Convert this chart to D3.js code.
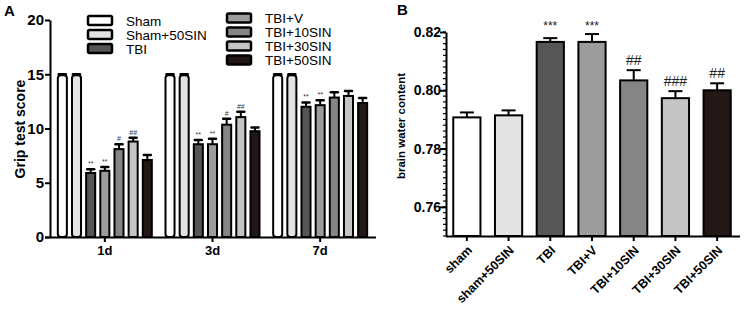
<!DOCTYPE html>
<html>
<head>
<meta charset="utf-8">
<script src="https://cdn.jsdelivr.net/npm/d3@7"></script>
<style>
  body { margin: 0; background: #fff; }
  svg text { font-family: "Liberation Sans", Arial, sans-serif; }
</style>
</head>
<body>
<div id="chart"></div>
<script>
// panel A data
var days = ["1d", "3d", "7d"];
var groupsA = ["Sham", "Sham+50SIN", "TBI", "TBI+V", "TBI+10SIN", "TBI+30SIN", "TBI+50SIN"];
var grip1d = [14.9, 14.9, 5.9, 6.1, 8.1, 8.8, 7.1];
var grip3d = [14.9, 14.9, 8.55, 8.55, 10.35, 11.05, 9.75];
var grip7d = [14.9, 14.9, 12.0, 12.15, 12.85, 13.0, 12.35];
var err1d = [0.1, 0.1, 0.35, 0.35, 0.45, 0.35, 0.45];
var err3d = [0.1, 0.1, 0.4, 0.5, 0.55, 0.5, 0.35];
var err7d = [0.1, 0.1, 0.4, 0.45, 0.5, 0.45, 0.45];
var sig1d = ["", "", "**", "**", "#", "##", ""];
var sig3d = ["", "", "**", "**", "#", "##", ""];
var sig7d = ["", "", "**", "**", "", "", ""];
var ticksA = [0, 5, 10, 15, 20];

// panel B data
var groupsB = ["sham", "sham+50SIN", "TBI", "TBI+V", "TBI+10SIN", "TBI+30SIN", "TBI+50SIN"];
var water = [0.7907, 0.7914, 0.8166, 0.8166, 0.8034, 0.7973, 0.8000];
var waterErr = [0.0017, 0.0017, 0.0013, 0.0027, 0.0035, 0.0024, 0.0024];
var sigB = ["", "", "***", "***", "##", "###", "##"];
var ticksB = [0.76, 0.78, 0.80, 0.82];

var fills = ["#ffffff", "#e3e3e3", "#575656", "#9c9c9c", "#858585", "#c4c4c4", "#231815"];

var svg = d3.select("#chart").append("svg")
  .attr("width", 744)
  .attr("height", 311);

// ---------- Panel A ----------
var gA = svg.append("g");
var gripData = [grip1d, grip3d, grip7d];
var errData = [err1d, err3d, err7d];
var sigData = [sig1d, sig3d, sig7d];

var xA = d3.scaleBand().domain(days).range([51, 374]);
var xInner = d3.scaleBand().domain(groupsA).range([-48, 48]).paddingInner(0.22);
var yA = d3.scaleLinear().domain([0, 20]).range([237, 20]);

days.forEach(function(day, di) {
  var cx = xA(day) + xA.bandwidth() / 2;
  groupsA.forEach(function(g, i) {
    var v = gripData[di][i], e = errData[di][i];
    var bx = cx + xInner(g);
    var mid = bx + xInner.bandwidth() / 2;
    // error bar
    gA.append("line")
      .attr("x1", mid).attr("x2", mid)
      .attr("y1", yA(v)).attr("y2", yA(v + e))
      .attr("stroke", "#000").attr("stroke-width", 2);
    gA.append("line")
      .attr("x1", mid - 3.5).attr("x2", mid + 3.5)
      .attr("y1", yA(v + e)).attr("y2", yA(v + e))
      .attr("stroke", "#000").attr("stroke-width", 2.5)
      .attr("stroke-linecap", "round");
    gA.append("rect")
      .attr("x", bx + 1)
      .attr("y", yA(v))
      .attr("width", xInner.bandwidth() - 2)
      .attr("height", yA(0) - yA(v))
      .attr("rx", i < 2 ? 3 : 0)
      .attr("fill", fills[i])
      .attr("stroke", "#000")
      .attr("stroke-width", 2);
    if (sigData[di][i]) {
      gA.append("text")
        .attr("x", mid)
        .attr("y", yA(v + e) - 3)
        .attr("text-anchor", "middle")
        .style("font-size", "7px")
        .attr("fill", "#333")
        .text(sigData[di][i]);
    }
  });
});

var yAxisA = gA.append("g")
  .attr("transform", "translate(50,0)")
  .call(d3.axisLeft(yA).tickValues(ticksA).tickSize(5).tickSizeOuter(0).tickFormat(d3.format("d")));
yAxisA.select(".domain").attr("stroke-width", 2);
yAxisA.selectAll(".tick line").attr("stroke-width", 2);
yAxisA.selectAll(".tick text")
  .style("font-size", "15px").style("font-weight", "bold")
  .attr("x", -6);

var xAxisA = gA.append("g")
  .attr("transform", "translate(0,237)")
  .call(d3.axisBottom(xA).tickSize(5).tickSizeOuter(0));
xAxisA.select(".domain").attr("d", "M45,0.5H376").attr("stroke-width", 2);
xAxisA.selectAll(".tick line").attr("stroke-width", 2);
xAxisA.selectAll(".tick text")
  .style("font-size", "13px").style("font-weight", "bold")
  .attr("y", 9);

gA.append("text")
  .attr("transform", "translate(25,129) rotate(-90)")
  .attr("text-anchor", "middle")
  .style("font-size", "14px").style("font-weight", "bold")
  .text("Grip test score");

gA.append("text")
  .attr("x", 4).attr("y", 16)
  .style("font-size", "15px").style("font-weight", "bold")
  .text("A");

// legend
var legendPos = [
  [88, 20.5], [88, 34.5], [88, 48.5],
  [227, 18], [227, 32], [227, 46], [227, 60]
];
groupsA.forEach(function(g, i) {
  var p = legendPos[i];
  gA.append("rect")
    .attr("x", p[0]).attr("y", p[1] - 4.5)
    .attr("width", 24).attr("height", 9)
    .attr("rx", 1.5)
    .attr("fill", fills[i])
    .attr("stroke", "#000").attr("stroke-width", 2.5);
  gA.append("text")
    .attr("x", p[0] + 38).attr("y", p[1] + 5)
    .style("font-size", "13.5px")
    .text(g);
});

// ---------- Panel B ----------
var gB = svg.append("g");
var xB = d3.scaleBand().domain(groupsB).range([446, 738]).paddingInner(0.3).paddingOuter(0.15);
var yB = d3.scaleLinear().domain([0.75, 0.82]).range([236, 32]);

groupsB.forEach(function(g, i) {
  var mid = xB(g) + xB.bandwidth() / 2;
  var v = water[i], e = waterErr[i];
  gB.append("line")
    .attr("x1", mid).attr("x2", mid)
    .attr("y1", yB(v)).attr("y2", yB(v + e))
    .attr("stroke", "#000").attr("stroke-width", 2);
  gB.append("line")
    .attr("x1", mid - 7).attr("x2", mid + 7)
    .attr("y1", yB(v + e)).attr("y2", yB(v + e))
    .attr("stroke", "#000").attr("stroke-width", 2);
  gB.append("rect")
    .attr("x", xB(g) + 1)
    .attr("y", yB(v))
    .attr("width", xB.bandwidth() - 2)
    .attr("height", yB(0.75) - yB(v))
    .attr("fill", fills[i])
    .attr("stroke", "#000")
    .attr("stroke-width", 2);
  if (sigB[i]) {
    var star = sigB[i].charAt(0) === "*";
    gB.append("text")
      .attr("x", mid)
      .attr("y", star ? 30 : yB(v + e) - 5)
      .attr("text-anchor", "middle")
      .style("font-size", star ? "12px" : "14px")
      .attr("fill", "#222")
      .text(sigB[i]);
  }
});

// minor ticks
var minor = d3.range(0, 36).map(function(k) { return 0.75 + k * 0.002; });
gB.append("g").selectAll("line")
  .data(minor)
  .join("line")
  .attr("x1", 443).attr("x2", 446)
  .attr("y1", function(d) { return yB(d); })
  .attr("y2", function(d) { return yB(d); })
  .attr("stroke", "#000").attr("stroke-width", 1.2);

var yAxisB = gB.append("g")
  .attr("transform", "translate(446,0)")
  .call(d3.axisLeft(yB).tickValues(ticksB).tickSize(6).tickSizeOuter(0).tickFormat(d3.format(".2f")));
yAxisB.select(".domain").attr("stroke-width", 2);
yAxisB.selectAll(".tick line").attr("stroke-width", 2);
yAxisB.selectAll(".tick text")
  .style("font-size", "14px").style("font-weight", "bold")
  .attr("x", -5);

var xAxisB = gB.append("g")
  .attr("transform", "translate(0,236)")
  .call(d3.axisBottom(xB).tickSize(5).tickSizeOuter(0));
xAxisB.select(".domain").attr("d", "M446,0.5H740").attr("stroke-width", 2);
xAxisB.selectAll(".tick line").attr("stroke-width", 2);
xAxisB.selectAll(".tick text")
  .style("font-size", "12.5px").style("font-weight", "bold")
  .attr("text-anchor", "end")
  .attr("x", null).attr("y", null).attr("dy", null)
  .attr("transform", "translate(6,15) rotate(-45)");

gB.append("text")
  .attr("transform", "translate(405,126) rotate(-90)")
  .attr("text-anchor", "middle")
  .style("font-size", "11.5px").style("font-weight", "bold")
  .text("brain water content");

gB.append("text")
  .attr("x", 397).attr("y", 15)
  .style("font-size", "15px").style("font-weight", "bold")
  .text("B");
</script>
</body>
</html>
